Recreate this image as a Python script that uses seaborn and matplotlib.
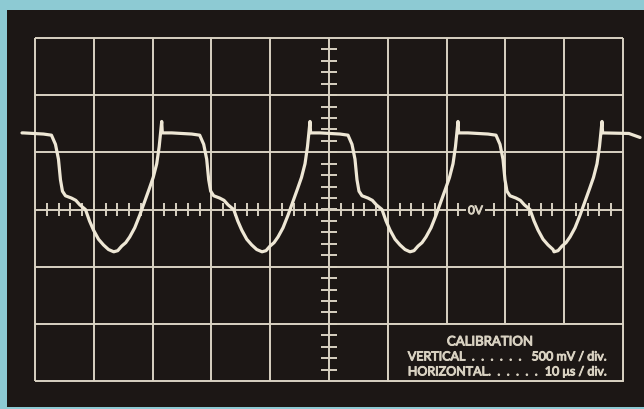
import numpy as np
import pandas as pd
import seaborn as sns
import matplotlib.pyplot as plt
import matplotlib.patheffects as pe
from matplotlib.patches import Rectangle

# scope screen: 10 divisions across (10 us/div), 6 divisions up (500 mV/div)
h_div = 10.0
v_div = 0.5
n_hdiv = 10
n_vdiv = 6

# rising-edge spike times (us) for each cycle, the first one is just off screen
spike_t = [-3.66, 21.55, 46.77, 71.94, 96.43]
trace_start = -2.21

# falling part of a cycle, measured from the spike before it (us, V)
fall_dt = [0.00, 0.10, 1.70, 3.50, 5.10, 6.46, 7.14, 7.65, 7.99, 8.33,
           8.84, 9.86, 10.60, 11.30, 12.24, 12.93, 13.61, 14.46, 15.31, 16.16]
fall_v = [0.77, 0.67, 0.67, 0.665, 0.66, 0.65, 0.57, 0.44, 0.26, 0.16,
          0.12, 0.10, 0.08, 0.04, 0.00, -0.10, -0.18, -0.26, -0.31, -0.35]

# rising part, measured back from the next spike
rise_dt = [-8.16, -7.48, -6.80, -6.12, -5.44, -4.59, -3.74, -2.89, -2.13,
           -1.45, -0.85, -0.43]
rise_v = [-0.37, -0.36, -0.32, -0.29, -0.24, -0.16, -0.05, 0.07, 0.18,
          0.28, 0.40, 0.55]

# flat top after the last spike, running off the graticule
tail_t = [101.0, 102.9]
tail_v = [0.665, 0.63]

cal_title = "CALIBRATION"
cal_rows = [("VERTICAL  .  .  .  .  .  .", "500 mV / div."),
            ("HORIZONTAL.  .  .  .  .  .", "10 \u03bcs / div.")]
zero_label = "0V"

# build the trace from the cycle pieces
t, v = [], []
for i, s in enumerate(spike_t):
    if i > 0:
        t += [s + d for d in rise_dt]
        v += rise_v
    if i < len(spike_t) - 1:
        t += [s + d for d in fall_dt]
        v += fall_v
    else:
        t += [s + d for d in fall_dt[:2]]
        v += fall_v[:2]
t += tail_t
v += tail_v
trace = pd.DataFrame({"t": t, "v": v})
trace = trace[trace["t"] >= trace_start]
trace = pd.concat([pd.DataFrame({"t": [trace_start], "v": [fall_v[2]]}), trace])

cyan = "#8dcad3"
screen = "#1c1715"
ink = "#d9d2c2"
beam = "#eee7d5"

sns.set_theme(style="dark", rc={"axes.facecolor": screen})
plt.rcParams["font.family"] = ["Lato", "DejaVu Sans"]

W, H = 644, 409
fig = plt.figure(figsize=(W / 100, H / 100), dpi=100, facecolor=cyan)
# screen panel in pixels: left 7, right 644, top 10, bottom 407
ax = fig.add_axes([7 / W, (H - 407) / H, 637 / W, 397 / H])

# graticule in pixels: x 35..623, y 38..381
px_x = (623 - 35) / (n_hdiv * h_div)
px_y = (381 - 38) / (n_vdiv * v_div)
t_max = n_hdiv * h_div
v_max = n_vdiv * v_div / 2
ax.set_xlim(-(35 - 7) / px_x, t_max + (644 - 623) / px_x)
ax.set_ylim(-v_max - (407 - 381) / px_y, v_max + (38 - 10) / px_y)

glw = 1.4
ax.vlines(np.arange(0, t_max + 1, h_div), -v_max, v_max, color=ink, lw=glw, zorder=2)
ax.hlines(np.arange(-v_max, v_max + 0.01, v_div), 0, t_max, color=ink, lw=glw, zorder=2)

# minor ticks on the centre axes, 5 per division
ht = np.arange(h_div / 5, t_max, h_div / 5)
ax.vlines(ht, -0.058, 0.058, color=ink, lw=glw, zorder=2)
vt = np.arange(-v_max + v_div / 5, v_max - 0.01, v_div / 5)
ax.hlines(vt, t_max / 2 - 1.4, t_max / 2 + 1.4, color=ink, lw=glw, zorder=2)

# thicken the regular face so it reads like the bold stencil lettering
bold = [pe.withStroke(linewidth=0.7, foreground=ink)]

ax.text(74.9, -0.01, zero_label, ha="center", va="center", fontsize=8.5,
        color=ink, zorder=4, path_effects=bold,
        bbox=dict(boxstyle="square,pad=0.15", fc=screen, ec="none"))

# calibration box blanks the lower-right cells
ax.add_patch(Rectangle((60, -v_max), 40, v_div, fc=screen, ec=ink, lw=glw, zorder=3))
ax.text(77.4, -1.154, cal_title, ha="center", va="center", fontsize=9.5,
        color=ink, zorder=4, path_effects=bold)
for k, (lab, val) in enumerate(cal_rows):
    yy = -1.285 - k * 0.131
    ax.text(63.4, yy, lab, ha="left", va="center", fontsize=9,
            color=ink, zorder=4, path_effects=bold)
    ax.text(97.3, yy, val, ha="right", va="center", fontsize=9,
            color=ink, zorder=4, path_effects=bold)

sns.lineplot(data=trace, x="t", y="v", sort=False, estimator=None,
             color=beam, lw=2.3, ax=ax, zorder=5)

ax.set_xticks([])
ax.set_yticks([])
ax.set_xlabel("")
ax.set_ylabel("")
for sp in ax.spines.values():
    sp.set_visible(False)

fig.savefig("out.png", dpi=100, facecolor=fig.get_facecolor())
